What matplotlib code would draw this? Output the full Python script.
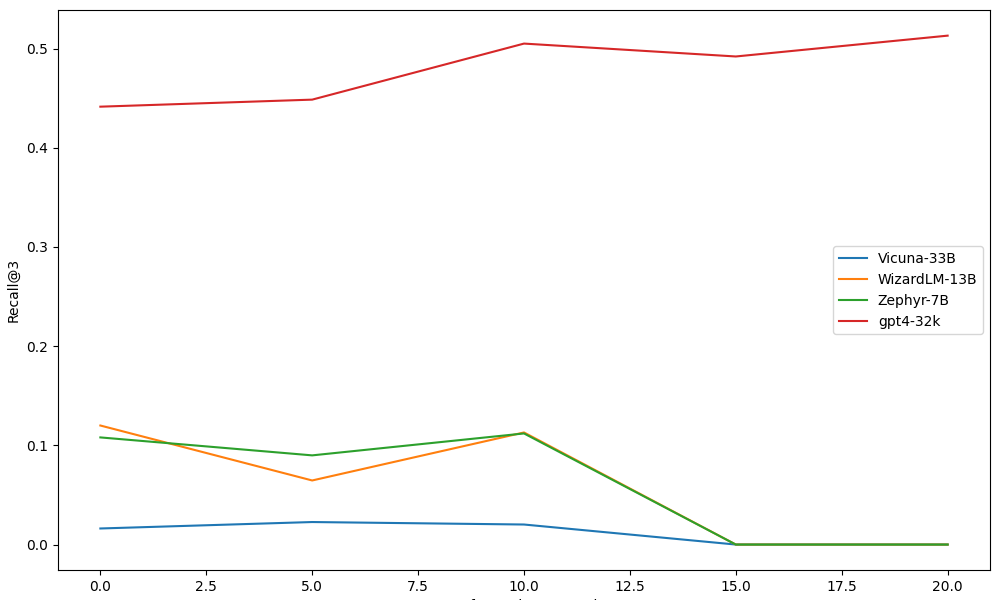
import matplotlib
matplotlib.use("Agg")
import matplotlib.pyplot as plt

# Anzahl Few-shot-Beispiele (x-Achse)
shots = [0, 5, 10, 15, 20]

# Recall@3 pro Modell
vicuna = [0.0162, 0.0227, 0.0202, 0.0, 0.0]
wizard = [0.120, 0.0646, 0.113, 0.0, 0.0]
zephyr = [0.108, 0.0899, 0.112, 0.0, 0.0]
gpt4 = [0.4414, 0.4485, 0.505, 0.492, 0.513]

labels = ["Vicuna-33B", "WizardLM-13B", "Zephyr-7B", "gpt4-32k"]

fig, ax = plt.subplots(figsize=(10, 6), dpi=100)
for vals, lab in zip([vicuna, wizard, zephyr, gpt4], labels):
    ax.plot(shots, vals, label=lab)

ax.set_xlabel("No. of Few-shot Examples")
ax.set_ylabel("Recall@3")
ax.legend(loc="center right")

# Achse fuellt fast die ganze Flaeche, x-Label wird unten abgeschnitten
fig.subplots_adjust(left=0.058, right=0.99, top=0.983, bottom=0.05)
fig.savefig("out.png", dpi=100)
